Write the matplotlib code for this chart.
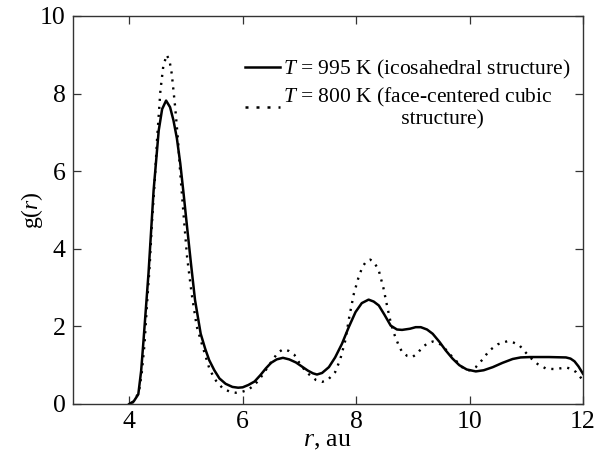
import numpy as np
import matplotlib
matplotlib.use("Agg")
import matplotlib.pyplot as plt
from matplotlib.lines import Line2D

# T = 995 K (icosahedral)
r_995 = [4.00, 4.08, 4.16, 4.21, 4.25, 4.34, 4.43, 4.52, 4.58, 4.65, 4.72, 4.78,
         4.84, 4.90, 4.96, 5.02, 5.09, 5.16, 5.26, 5.34, 5.41, 5.50, 5.59, 5.70,
         5.82, 5.92, 6.00, 6.10, 6.21, 6.31, 6.41, 6.50, 6.60, 6.71, 6.82, 6.94,
         7.05, 7.15, 7.24, 7.31, 7.40, 7.52, 7.63, 7.75, 7.87, 7.99, 8.10, 8.22,
         8.31, 8.40, 8.50, 8.61, 8.72, 8.81, 8.95, 9.05, 9.14, 9.25, 9.35, 9.47,
         9.58, 9.70, 9.82, 9.95, 10.11, 10.25, 10.41, 10.58, 10.76, 10.90, 11.06,
         11.40, 11.70, 11.78, 11.85, 11.92, 12.00]
g_995 = [0.00, 0.07, 0.25, 0.85, 1.60, 3.37, 5.51, 7.05, 7.60, 7.82, 7.65, 7.31,
         6.85, 6.20, 5.40, 4.56, 3.60, 2.68, 1.81, 1.42, 1.13, 0.87, 0.66, 0.52,
         0.44, 0.42, 0.43, 0.49, 0.58, 0.74, 0.92, 1.06, 1.15, 1.19, 1.15, 1.07,
         0.96, 0.86, 0.79, 0.76, 0.80, 0.95, 1.20, 1.55, 1.98, 2.37, 2.60, 2.69,
         2.64, 2.54, 2.30, 2.02, 1.92, 1.91, 1.94, 1.98, 1.98, 1.92, 1.81, 1.60,
         1.38, 1.17, 1.00, 0.89, 0.84, 0.87, 0.95, 1.06, 1.16, 1.20, 1.21,
         1.21, 1.20, 1.17, 1.10, 0.97, 0.78]

# T = 800 K (fcc)
r_800 = [4.05, 4.12, 4.18, 4.22, 4.27, 4.31, 4.36, 4.40, 4.45, 4.49, 4.55, 4.60,
         4.66, 4.71, 4.75, 4.81, 4.86, 4.90, 4.96, 5.02, 5.10, 5.19, 5.29, 5.42,
         5.53, 5.65, 5.77, 5.88, 5.98, 6.09, 6.19, 6.29, 6.41, 6.53, 6.62, 6.71,
         6.81, 6.91, 7.00, 7.09, 7.18, 7.29, 7.40, 7.50, 7.63, 7.72, 7.81, 7.88,
         7.96, 8.04, 8.11, 8.18, 8.25, 8.32, 8.40, 8.48, 8.55, 8.61, 8.67, 8.74,
         8.81, 8.90, 8.99, 9.08, 9.17, 9.26, 9.35, 9.43, 9.52, 9.64, 9.76, 9.85,
         9.94, 10.02, 10.11, 10.23, 10.35, 10.50, 10.67, 10.78, 10.88, 10.97,
         11.06, 11.20, 11.35, 11.50, 11.71, 11.80, 11.88, 11.94, 12.00]
g_800 = [0.02, 0.15, 0.40, 0.79, 1.55, 2.50, 3.55, 4.65, 5.75, 6.80, 8.08, 8.70,
         9.00, 8.85, 8.51, 7.65, 6.80, 5.94, 4.85, 3.79, 2.85, 2.00, 1.50, 0.88,
         0.60, 0.40, 0.32, 0.29, 0.31, 0.36, 0.47, 0.62, 0.88, 1.14, 1.32, 1.41,
         1.37, 1.27, 1.06, 0.88, 0.75, 0.62, 0.57, 0.62, 0.82, 1.15, 1.64, 2.25,
         2.84, 3.25, 3.53, 3.68, 3.72, 3.65, 3.44, 3.00, 2.50, 2.10, 1.81, 1.55,
         1.34, 1.24, 1.21, 1.30, 1.47, 1.56, 1.61, 1.58, 1.51, 1.30, 1.12, 0.97,
         0.87, 0.87, 0.95, 1.15, 1.38, 1.54, 1.62, 1.58, 1.51, 1.36,
         1.21, 1.03, 0.91, 0.90, 0.94, 0.90, 0.82, 0.72, 0.60]

plt.rcParams['font.family'] = ['Liberation Serif', 'DejaVu Serif']
plt.rcParams['mathtext.fontset'] = 'custom'
plt.rcParams['mathtext.it'] = 'Liberation Serif:italic'
plt.rcParams['mathtext.rm'] = 'Liberation Serif'

fig = plt.figure(figsize=(6.03, 4.59), dpi=100)
ax = fig.add_axes([72.5 / 603, 1 - 404 / 459, (583 - 72.5) / 603, (404 - 16) / 459])

ax.plot(r_995, g_995, color='black', linewidth=1.8)
ax.plot(r_800, g_800, color='black', linewidth=1.7, linestyle=(0, (0.9, 2.5)))

ax.set_xlim(3, 12)
ax.set_ylim(0, 10)
ax.set_xticks([4, 6, 8, 10, 12])
ax.set_yticks([0, 2, 4, 6, 8, 10])
ax.tick_params(direction='in', top=True, right=True, length=6, width=0.9,
               labelsize=18.5, pad=5, color='#333333')
for s in ax.spines.values():
    s.set_linewidth(1.0)
    s.set_color('#333333')

ax.set_xlabel('$r$, au', fontsize=18.5, labelpad=-2)
ax.set_ylabel('g($r$)', fontsize=17, labelpad=-4)

handles = [Line2D([], [], color='black', linewidth=1.8),
           Line2D([], [], color='black', linewidth=1.8, linestyle=(0, (1.2, 3.2)))]
labels = ['$T$ = 995 K (icosahedral structure)',
          '$T$ = 800 K (face-centered cubic\n' + ' ' * 22 + 'structure)']
leg = ax.legend(handles, labels, loc='upper right', bbox_to_anchor=(0.991, 0.914),
                frameon=False, fontsize=15.5, handlelength=1.65, handletextpad=0.1,
                labelspacing=0.22, borderaxespad=0.0)
for t in leg.get_texts():
    t.set_linespacing(1.08)

fig.savefig('out.png', dpi=100)
